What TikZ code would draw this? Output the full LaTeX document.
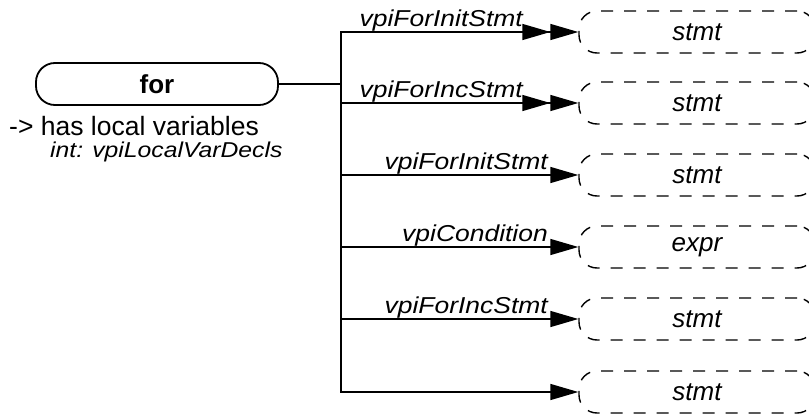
\documentclass[tikz,border=0pt]{standalone}
\usepackage{fontspec}
\setmainfont{Liberation Sans}
\newfontfamily\lblfont{Liberation Sans}[FakeStretch=1.15]
\usetikzlibrary{arrows.meta}
\begin{document}
\begin{tikzpicture}[x=1pt,y=-1pt,
  conn/.style={line width=1.4pt},
  arr/.style={conn,-{Triangle[length=28pt,width=16pt]}},
  darr/.style={conn,-{Triangle[length=28pt,width=16pt,sep=0pt]Triangle[length=28pt,width=16pt]}},
  objbox/.style={draw,line width=1.8pt,rounded corners=19pt,minimum width=242pt,minimum height=42pt,inner sep=0pt,
    font=\fontsize{26}{30}\selectfont\bfseries},
  refbox/.style={draw,dashed,dash pattern=on 12pt off 11pt,line width=1.4pt,rounded corners=18pt,
    minimum width=236pt,minimum height=42pt,inner sep=0pt,
    font=\itshape\fontsize{26}{30}\selectfont},
  lbl/.style={anchor=base east,inner sep=0pt,font=\lblfont\itshape\fontsize{23}{26}\selectfont}
]
\useasboundingbox (0,0) rectangle (809,415);
\node[objbox] (forn) at (157,84) {for};
\node[anchor=base west,inner sep=0pt,font=\fontsize{26.5}{30}\selectfont] (hl) at (9,135) {-> has local variables};
\node[anchor=base west,inner sep=0pt,font=\lblfont\itshape\fontsize{21.5}{24}\selectfont] (iv) at (50,157) {int: vpiLocalVarDecls};

\node[refbox] (t1) at (697,32) {stmt};
\node[refbox] (t2) at (697,103) {stmt};
\node[refbox] (t3) at (697,175) {stmt};
\node[refbox] (t4) at (697,247) {expr};
\node[refbox] (t5) at (697,319) {stmt};
\node[refbox] (t6) at (697,392) {stmt};

\coordinate (j) at (341,84);
\draw[conn] (forn.east) -- (j);
\draw[darr] (j) |- (t1.west);
\draw[darr] (j) |- (t2.west);
\draw[arr] (j) |- (t3.west);
\draw[arr] (j) |- (t4.west);
\draw[arr] (j) |- (t5.west);
\draw[arr] (j) |- (t6.west);

\node[lbl] (l1) at (523,26) {vpiForInitStmt};
\node[lbl] (l2) at (523,97) {vpiForIncStmt};
\node[lbl] (l3) at (548,169) {vpiForInitStmt};
\node[lbl] (l4) at (548,241) {vpiCondition};
\node[lbl] (l5) at (548,313) {vpiForIncStmt};
\end{tikzpicture}
\end{document}
